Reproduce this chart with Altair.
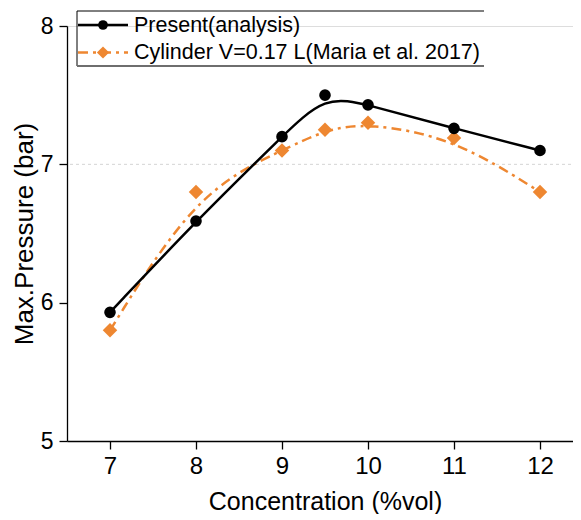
import altair as alt
import pandas as pd

# ---- data ----
conc_present = [7, 8, 9, 9.5, 10, 11, 12]
p_present = [5.93, 6.59, 7.20, 7.50, 7.43, 7.26, 7.10]
conc_maria = [7, 8, 9, 9.5, 10, 11, 12]
p_maria = [5.80, 6.80, 7.10, 7.25, 7.30, 7.19, 6.80]
series_names = ["Present(analysis)", "Cylinder V=0.17 L(Maria et al. 2017)"]
x_ticks = [7, 7.5, 8, 8.5, 9, 9.5, 10, 10.5, 11, 11.5, 12]
y_ticks = [5, 5.5, 6, 6.5, 7, 7.5, 8]
ref_level = [7]

FONT = "Liberation Sans"
BLACK = "#000000"
ORANGE = "#EE8731"

df_p = pd.DataFrame({"x": conc_present, "y": p_present})
df_m = pd.DataFrame({"x": conc_maria, "y": p_maria})

xscale = alt.Scale(domain=[6.5, 12.5], nice=False, zero=False)
yscale = alt.Scale(domain=[5, 8], nice=False, zero=False)

xaxis = alt.Axis(
    title="Concentration (%vol)", values=x_ticks, format="d",
    labelExpr="datum.value % 1 === 0 ? datum.label : ''",
    tickSize={"condition": {"test": "datum.value % 1 === 0", "value": 8}, "value": 5},
    grid=False, domainColor=BLACK, domainWidth=1.3, tickColor=BLACK, tickWidth=1.3,
    labelFont=FONT, labelFontSize=24, labelColor=BLACK, labelPadding=5,
    titleFont=FONT, titleFontSize=25, titleFontWeight="normal", titleColor=BLACK,
    titlePadding=11,
)
yaxis = alt.Axis(
    title="Max.Pressure (bar)", values=y_ticks, format="d",
    labelExpr="datum.value % 1 === 0 ? datum.label : ''",
    tickSize={"condition": {"test": "datum.value % 1 === 0", "value": 8}, "value": 5},
    grid=False, domainColor=BLACK, domainWidth=1.3, tickColor=BLACK, tickWidth=1.3,
    labelFont=FONT, labelFontSize=23, labelColor=BLACK, labelPadding=6,
    titleFont=FONT, titleFontSize=26, titleFontWeight="normal", titleColor=BLACK,
    titlePadding=3,
)

ref = alt.Chart(pd.DataFrame({"y": ref_level})).mark_rule(
    color="#d4d4d4", strokeDash=[3, 3], strokeWidth=1
).encode(y=alt.Y("y:Q", scale=yscale, axis=yaxis))

line_p = alt.Chart(df_p).mark_line(
    color=BLACK, strokeWidth=2.5, interpolate="basis"
).encode(
    x=alt.X("x:Q", scale=xscale, axis=xaxis),
    y=alt.Y("y:Q", scale=yscale, axis=yaxis),
)
pts_p = alt.Chart(df_p).mark_point(
    shape="circle", filled=True, color=BLACK, size=135, opacity=1
).encode(x=alt.X("x:Q", scale=xscale), y=alt.Y("y:Q", scale=yscale))

line_m = alt.Chart(df_m).mark_line(
    color=ORANGE, strokeWidth=2.5, interpolate="basis", strokeDash=[10, 5, 3, 5]
).encode(x=alt.X("x:Q", scale=xscale), y=alt.Y("y:Q", scale=yscale))
pts_m = alt.Chart(df_m).mark_point(
    shape="diamond", filled=True, color=ORANGE, size=210, opacity=1
).encode(x=alt.X("x:Q", scale=xscale), y=alt.Y("y:Q", scale=yscale))

# ---- hand-drawn legend box (Origin style) ----
one = alt.Data(values=[{"k": 0}])

box_top = alt.Chart(one).mark_rule(color=BLACK, strokeWidth=1).encode(
    x=alt.value(10), x2=alt.value(417), y=alt.value(-15))
box_left = alt.Chart(one).mark_rule(color=BLACK, strokeWidth=1).encode(
    x=alt.value(10), y=alt.value(-15), y2=alt.value(40))
box_bottom = alt.Chart(one).mark_rule(color="#6e6e6e", strokeWidth=2).encode(
    x=alt.value(10), x2=alt.value(417), y=alt.value(40))

leg_line1 = alt.Chart(one).mark_rule(color=BLACK, strokeWidth=2.5).encode(
    x=alt.value(11), x2=alt.value(61), y=alt.value(-1))
leg_pt1 = alt.Chart(one).mark_point(shape="circle", filled=True, color=BLACK,
                                    size=95, opacity=1).encode(
    x=alt.value(36), y=alt.value(-1))
leg_line2 = alt.Chart(one).mark_rule(color=ORANGE, strokeWidth=2.5,
                                     strokeDash=[10, 5, 3, 5]).encode(
    x=alt.value(11), x2=alt.value(61), y=alt.value(26.5))
leg_pt2 = alt.Chart(one).mark_point(shape="diamond", filled=True, color=ORANGE,
                                    size=150, opacity=1).encode(
    x=alt.value(36), y=alt.value(26.5))
leg_text1 = alt.Chart(one).mark_text(
    align="left", baseline="middle", font=FONT, fontSize=21.5, color=BLACK
).encode(x=alt.value(67), y=alt.value(0), text=alt.value(series_names[0]))
leg_text2 = alt.Chart(one).mark_text(
    align="left", baseline="middle", font=FONT, fontSize=21.5, color=BLACK
).encode(x=alt.value(67), y=alt.value(27), text=alt.value(series_names[1]))

chart = alt.layer(
    ref, line_m, line_p, pts_m, pts_p,
    box_top, box_left, box_bottom, leg_line1, leg_pt1, leg_line2, leg_pt2,
    leg_text1, leg_text2,
).properties(
    width=516, height=415,
    autosize=alt.AutoSizeParams(type="none"),
    padding={"left": 59, "top": 18, "right": -10, "bottom": 73},
).configure_view(stroke=None).configure(background="white")

chart.save("out.html", embed_options={"renderer": "svg", "actions": False})
